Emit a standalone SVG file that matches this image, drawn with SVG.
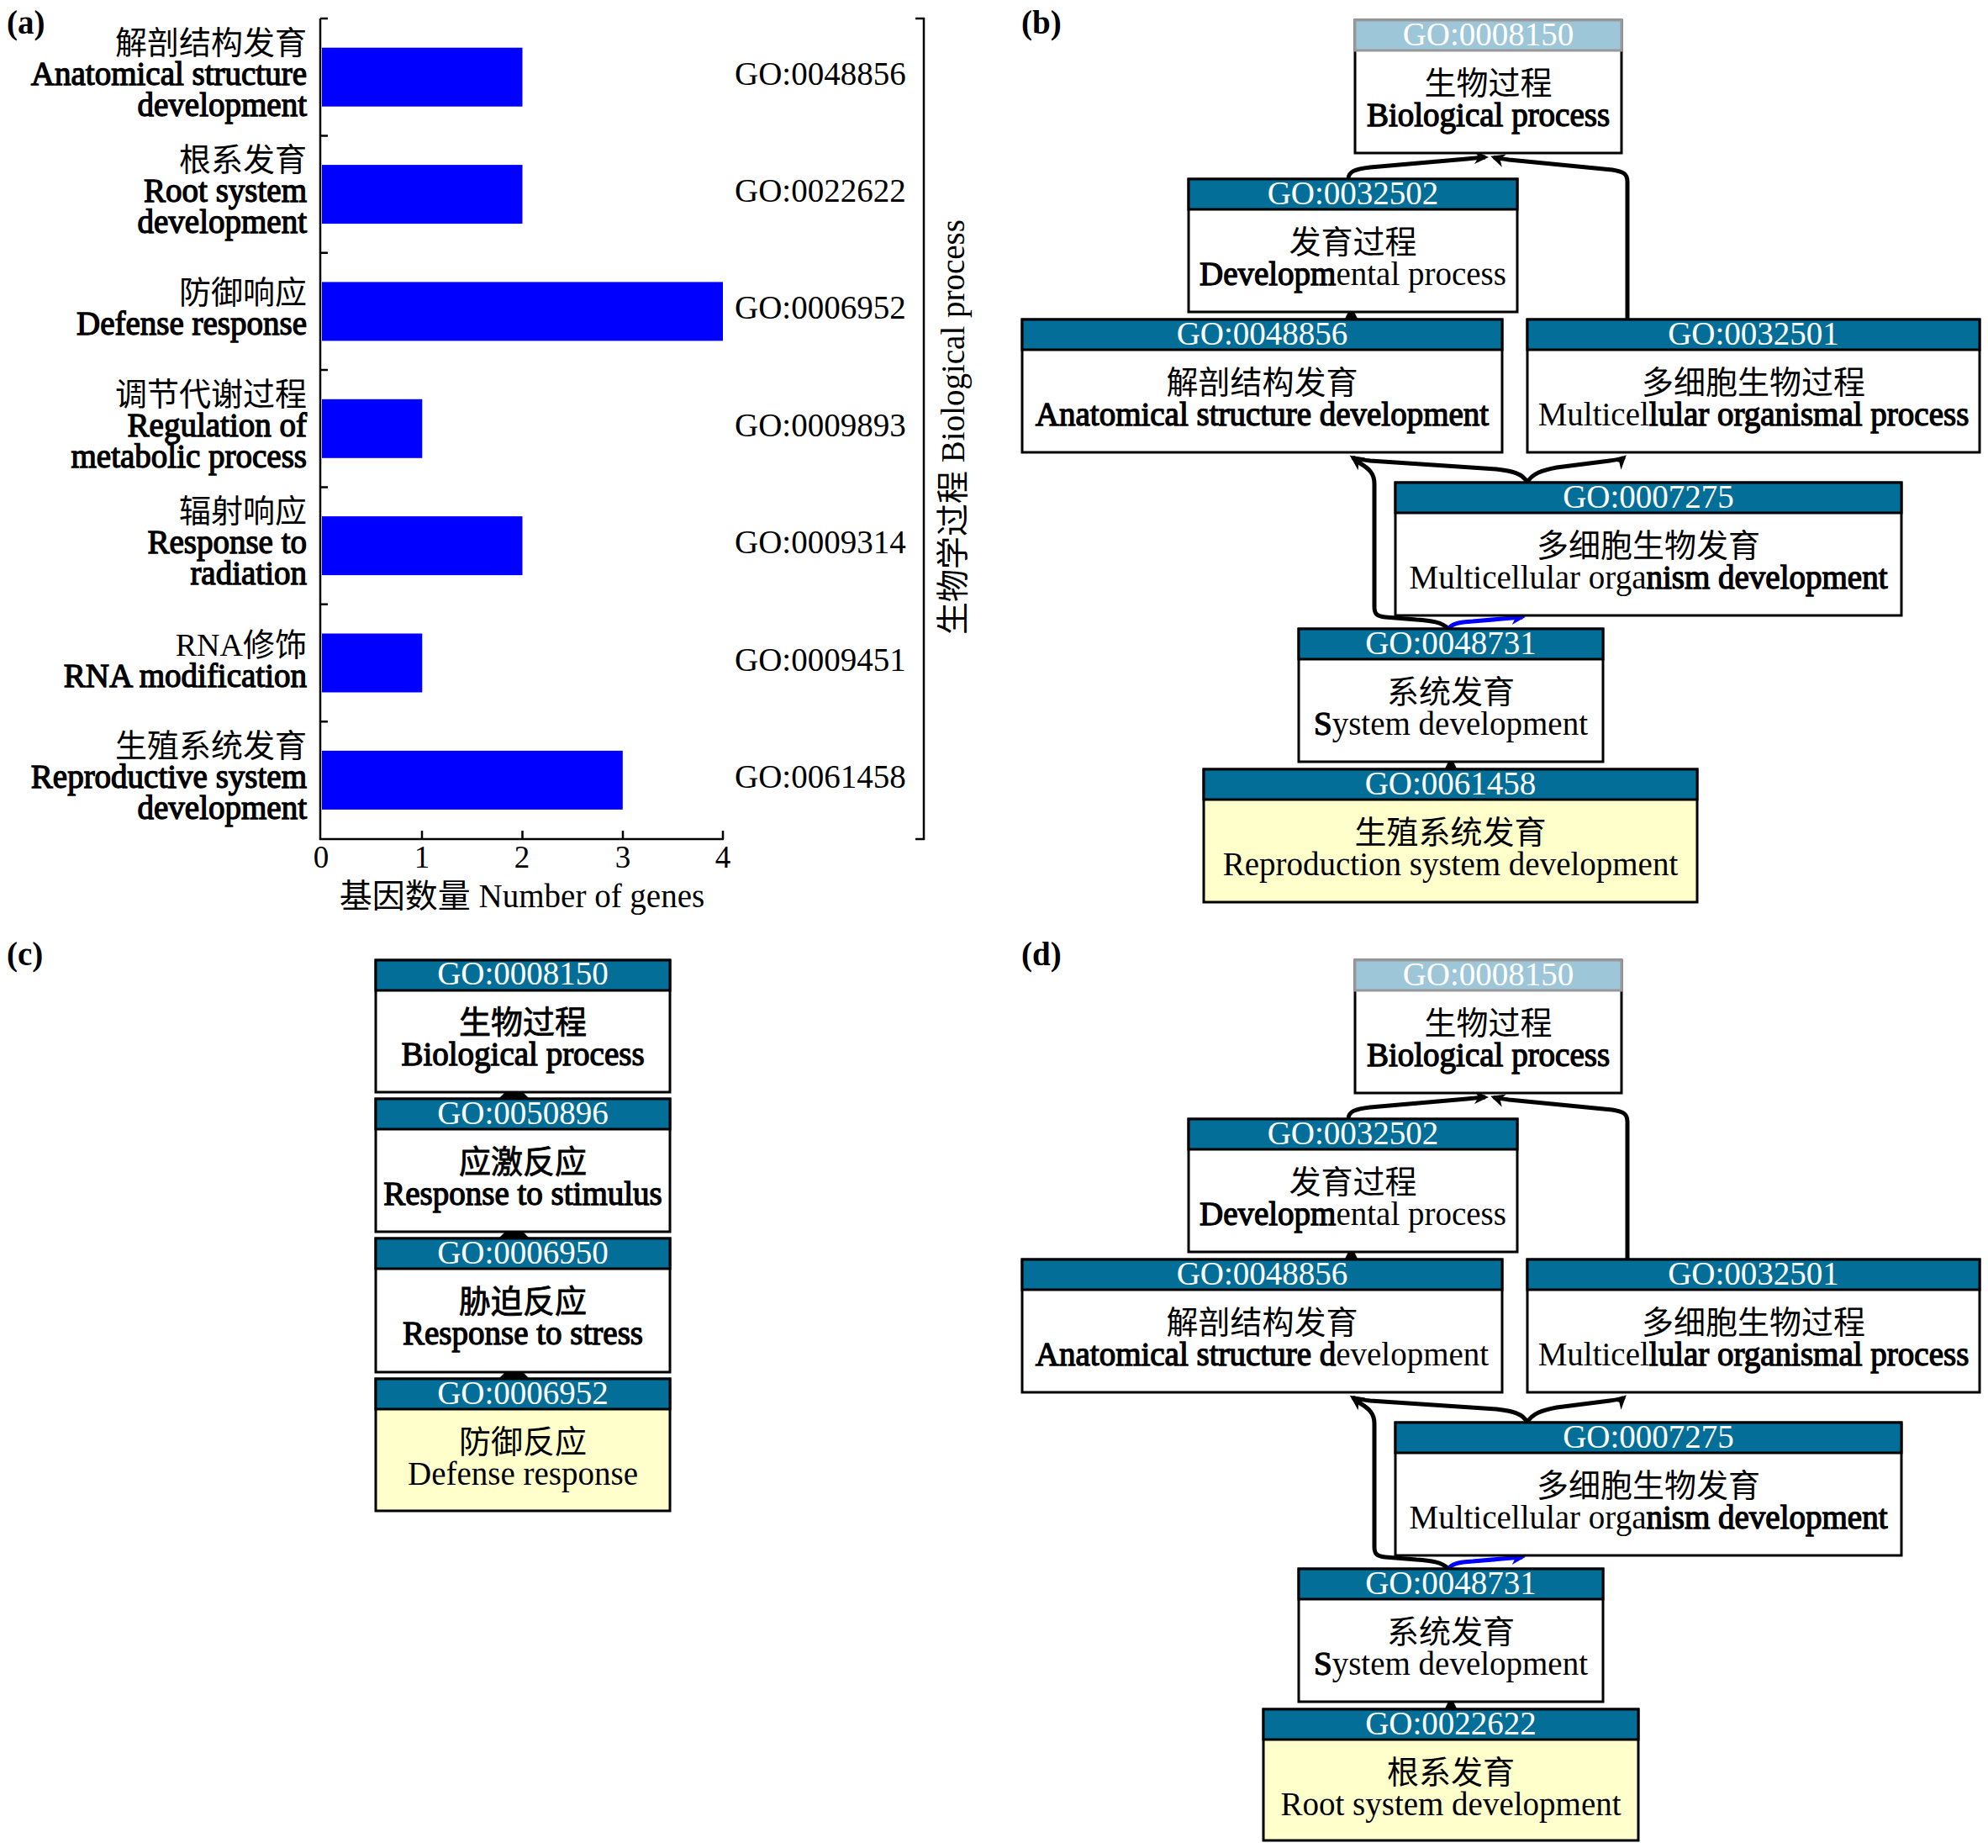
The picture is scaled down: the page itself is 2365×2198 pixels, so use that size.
<svg xmlns="http://www.w3.org/2000/svg" width="2365" height="2198" viewBox="0 0 2365 2198">
<defs>
<style>
.t{font-family:"Liberation Serif","Noto Sans CJK SC",serif;font-size:39px;fill:#000}
.zh{font-family:"Liberation Serif","Noto Sans CJK SC",sans-serif;font-size:38px}
.hd{font-family:"Liberation Serif",serif;font-size:39px;fill:#fff;text-anchor:middle}
.m{text-anchor:middle}
.e{text-anchor:end}
.b{stroke:#000;stroke-width:1.3px}
.bz{stroke:#000;stroke-width:0.8px}
.lab{font-family:"Liberation Serif",serif;font-size:39px;font-weight:bold}
.box{fill:#fff;stroke:#000;stroke-width:3}
.yel{fill:#ffffcc;stroke:#000;stroke-width:3}
.hdr{fill:#036f99;stroke:#000;stroke-width:3}
.hdl{fill:#9dc6d8;stroke:#999;stroke-width:3}
.bar{fill:#0000ff}
.ax{fill:none;stroke:#000;stroke-width:2.5}
.edge{fill:none;stroke:#000;stroke-width:5}
.bl{fill:none;stroke:#0000ff;stroke-width:5}
.blob{fill:#000}
</style>
<marker id="ah" markerUnits="userSpaceOnUse" markerWidth="24" markerHeight="24" viewBox="-20 -12 24 24" refX="-4" refY="0" orient="auto">
<path d="M0,0 L-17,-8 L-12,0 L-17,8 Z" fill="#000"/>
</marker>
<marker id="ahb" markerUnits="userSpaceOnUse" markerWidth="24" markerHeight="24" viewBox="-20 -12 24 24" refX="-4" refY="0" orient="auto">
<path d="M0,0 L-17,-8 L-12,0 L-17,8 Z" fill="#0000ff"/>
</marker>
</defs>
<rect x="0" y="0" width="2365" height="2198" fill="#fff"/>

<!-- panel labels -->
<text class="lab" x="8" y="40">(a)</text>
<text class="lab" x="1215" y="40">(b)</text>
<text class="lab" x="8" y="1148">(c)</text>
<text class="lab" x="1215" y="1148">(d)</text>

<!-- (a) bar chart -->
<g id="chart-a">
<g id="bars">
<rect class="bar" x="383" y="56.7" width="238.5" height="70"/>
<rect class="bar" x="383" y="196.1" width="238.5" height="70"/>
<rect class="bar" x="383" y="335.4" width="477" height="70"/>
<rect class="bar" x="383" y="474.8" width="119.3" height="70"/>
<rect class="bar" x="383" y="614.1" width="238.5" height="70"/>
<rect class="bar" x="383" y="753.5" width="119.3" height="70"/>
<rect class="bar" x="383" y="892.9" width="357.8" height="70"/>
</g>
<g id="axes">
<path class="ax" d="M381,22 V998 H861"/>
<path class="ax" d="M381,22 h9 M381,161.4 h9 M381,300.7 h9 M381,440.1 h9 M381,579.4 h9 M381,718.8 h9 M381,858.2 h9"/>
<path class="ax" d="M502,998 v-10 M621.5,998 v-10 M741,998 v-10 M860,998 v-10"/>
<path class="ax" d="M1089,22 H1099 V998 H1089"/>
</g>
<g id="ticklabels" class="t m" style="font-size:37px">
<text x="382" y="1032">0</text>
<text x="502" y="1032">1</text>
<text x="621" y="1032">2</text>
<text x="741" y="1032">3</text>
<text x="860" y="1032">4</text>
</g>
<text class="t m" x="621" y="1079">基因数量 Number of genes</text>
<text class="t m" transform="translate(1147,508) rotate(-90)">生物学过程 Biological process</text>
<g id="ylabels" class="t e">
<text x="365" y="64"><tspan class="zh">解剖结构发育</tspan><tspan class="b" x="365" dy="37">Anatomical structure</tspan><tspan class="b" x="365" dy="37">development</tspan></text>
<text x="365" y="203"><tspan class="zh">根系发育</tspan><tspan class="b" x="365" dy="37">Root system</tspan><tspan class="b" x="365" dy="37">development</tspan></text>
<text x="365" y="361"><tspan class="zh">防御响应</tspan><tspan class="b" x="365" dy="37">Defense response</tspan></text>
<text x="365" y="482"><tspan class="zh">调节代谢过程</tspan><tspan class="b" x="365" dy="37">Regulation of</tspan><tspan class="b" x="365" dy="37">metabolic process</tspan></text>
<text x="365" y="621"><tspan class="zh">辐射响应</tspan><tspan class="b" x="365" dy="37">Response to</tspan><tspan class="b" x="365" dy="37">radiation</tspan></text>
<text x="365" y="780"><tspan class="zh">RNA修饰</tspan><tspan class="b" x="365" dy="37">RNA modification</tspan></text>
<text x="365" y="900"><tspan class="zh">生殖系统发育</tspan><tspan class="b" x="365" dy="37">Reproductive system</tspan><tspan class="b" x="365" dy="37">development</tspan></text>
</g>
<g id="golabels" class="t">
<text x="874" y="101">GO:0048856</text>
<text x="874" y="240">GO:0022622</text>
<text x="874" y="379">GO:0006952</text>
<text x="874" y="519">GO:0009893</text>
<text x="874" y="658">GO:0009314</text>
<text x="874" y="798">GO:0009451</text>
<text x="874" y="937">GO:0061458</text>
</g>
</g>

<!-- (b) connectors -->
<g id="connectors-b">
<path class="edge" marker-end="url(#ah)" d="M1604,213 C1604,204 1612,201 1630,199 L1745,189 Q1765,187 1767,187"/>
<path class="edge" marker-end="url(#ah)" d="M1936,380 L1936,216 C1936,206 1930,204 1918,202 L1795,190 Q1780,188 1777,187"/>
<path class="edge" marker-end="url(#ah)" d="M1817,574 C1812,563 1798,560 1780,558 L1630,548 Q1612,546 1609,544"/>
<path class="edge" marker-end="url(#ah)" d="M1817,574 C1822,563 1836,559 1852,556 L1915,548 Q1930,546 1932,544"/>
<path class="edge" marker-end="url(#ah)" d="M1723,748 C1716,740 1702,738 1685,737 L1648,734 C1638,733 1635,730 1635,722 L1635,575 C1635,563 1628,557 1618,551 L1610,545"/>
<path class="bl" marker-end="url(#ahb)" d="M1723,748 C1727,742 1735,740 1752,739 L1811,734"/>
<polygon class="blob" points="1599,381 1604,371 1611,371 1616,381"/>
<polygon class="blob" points="1718,916 1723,906 1729,906 1734,916"/>
</g>

<!-- (d) connectors -->
<g id="connectors-d" transform="translate(0,1118)">
<path class="edge" marker-end="url(#ah)" d="M1604,213 C1604,204 1612,201 1630,199 L1745,189 Q1765,187 1767,187"/>
<path class="edge" marker-end="url(#ah)" d="M1936,380 L1936,216 C1936,206 1930,204 1918,202 L1795,190 Q1780,188 1777,187"/>
<path class="edge" marker-end="url(#ah)" d="M1817,574 C1812,563 1798,560 1780,558 L1630,548 Q1612,546 1609,544"/>
<path class="edge" marker-end="url(#ah)" d="M1817,574 C1822,563 1836,559 1852,556 L1915,548 Q1930,546 1932,544"/>
<path class="edge" marker-end="url(#ah)" d="M1723,748 C1716,740 1702,738 1685,737 L1648,734 C1638,733 1635,730 1635,722 L1635,575 C1635,563 1628,557 1618,551 L1610,545"/>
<path class="bl" marker-end="url(#ahb)" d="M1723,748 C1727,742 1735,740 1752,739 L1811,734"/>
<polygon class="blob" points="1599,381 1604,371 1611,371 1616,381"/>
<polygon class="blob" points="1718,916 1723,906 1729,906 1734,916"/>
</g>

<!-- (c) connectors -->
<g id="connectors-c">
<polygon class="blob" points="592,1308 601,1299 622,1299 631,1308"/>
<polygon class="blob" points="592,1474 601,1465 622,1465 631,1474"/>
<polygon class="blob" points="592,1641 601,1632 622,1632 631,1641"/>
</g>

<!-- (b) nodes -->
<g id="b-GO0008150">
<rect class="box" x="1612" y="24" width="317" height="158"/>
<rect class="hdl" x="1612" y="24" width="317" height="36"/>
<text class="hd" x="1770.5" y="54">GO:0008150</text>
<text class="t m" x="1770.5" y="112"><tspan class="zh">生物过程</tspan><tspan class="b" x="1770.5" dy="38">Biological process</tspan></text>
</g>
<g id="b-GO0032502">
<rect class="box" x="1414" y="213" width="391" height="158"/>
<rect class="hdr" x="1414" y="213" width="391" height="36"/>
<text class="hd" x="1609.5" y="243">GO:0032502</text>
<text class="t m" x="1609.5" y="301"><tspan class="zh">发育过程</tspan><tspan x="1609.5" dy="38"><tspan class="b">Developm</tspan>ental process</tspan></text>
</g>
<g id="b-GO0048856">
<rect class="box" x="1216" y="380" width="571" height="158"/>
<rect class="hdr" x="1216" y="380" width="571" height="36"/>
<text class="hd" x="1501.5" y="410">GO:0048856</text>
<text class="t m" x="1501.5" y="468"><tspan class="zh">解剖结构发育</tspan><tspan class="b" x="1501.5" dy="38">Anatomical structure development</tspan></text>
</g>
<g id="b-GO0032501">
<rect class="box" x="1817" y="380" width="538" height="158"/>
<rect class="hdr" x="1817" y="380" width="538" height="36"/>
<text class="hd" x="2086" y="410">GO:0032501</text>
<text class="t m" x="2086" y="468"><tspan class="zh">多细胞生物过程</tspan><tspan x="2086" dy="38">Multicel<tspan class="b">lular organismal process</tspan></tspan></text>
</g>
<g id="b-GO0007275">
<rect class="box" x="1660" y="574" width="602" height="158"/>
<rect class="hdr" x="1660" y="574" width="602" height="36"/>
<text class="hd" x="1961" y="604">GO:0007275</text>
<text class="t m" x="1961" y="662"><tspan class="zh">多细胞生物发育</tspan><tspan x="1961" dy="38">Multicellular orga<tspan class="b">nism development</tspan></tspan></text>
</g>
<g id="b-GO0048731">
<rect class="box" x="1545" y="748" width="362" height="158"/>
<rect class="hdr" x="1545" y="748" width="362" height="36"/>
<text class="hd" x="1726" y="778">GO:0048731</text>
<text class="t m" x="1726" y="836"><tspan class="zh">系统发育</tspan><tspan x="1726" dy="38"><tspan class="b">S</tspan>ystem development</tspan></text>
</g>
<g id="b-GO0061458">
<rect class="yel" x="1432" y="915" width="587" height="158"/>
<rect class="hdr" x="1432" y="915" width="587" height="36"/>
<text class="hd" x="1725.5" y="945">GO:0061458</text>
<text class="t m" x="1725.5" y="1003"><tspan class="zh">生殖系统发育</tspan><tspan x="1725.5" dy="38">Reproduction system development</tspan></text>
</g>

<!-- (c) nodes -->
<g id="c-GO0008150">
<rect class="box" x="447" y="1142" width="350" height="157"/>
<rect class="hdr" x="447" y="1142" width="350" height="36"/>
<text class="hd" x="622" y="1171">GO:0008150</text>
<text class="t m" x="622" y="1229"><tspan class="zh bz">生物过程</tspan><tspan class="b" x="622" dy="38">Biological process</tspan></text>
</g>
<g id="c-GO0050896">
<rect class="box" x="447" y="1307" width="350" height="158"/>
<rect class="hdr" x="447" y="1307" width="350" height="36"/>
<text class="hd" x="622" y="1337">GO:0050896</text>
<text class="t m" x="622" y="1395"><tspan class="zh bz">应激反应</tspan><tspan class="b" x="622" dy="38">Response to stimulus</tspan></text>
</g>
<g id="c-GO0006950">
<rect class="box" x="447" y="1473" width="350" height="159"/>
<rect class="hdr" x="447" y="1473" width="350" height="36"/>
<text class="hd" x="622" y="1503">GO:0006950</text>
<text class="t m" x="622" y="1561"><tspan class="zh bz">胁迫反应</tspan><tspan class="b" x="622" dy="38">Response to stress</tspan></text>
</g>
<g id="c-GO0006952">
<rect class="yel" x="447" y="1640" width="350" height="157"/>
<rect class="hdr" x="447" y="1640" width="350" height="36"/>
<text class="hd" x="622" y="1670">GO:0006952</text>
<text class="t m" x="622" y="1728"><tspan class="zh">防御反应</tspan><tspan x="622" dy="38">Defense response</tspan></text>
</g>

<!-- (d) nodes -->
<g id="d-GO0008150">
<rect class="box" x="1612" y="1142" width="317" height="158"/>
<rect class="hdl" x="1612" y="1142" width="317" height="36"/>
<text class="hd" x="1770.5" y="1172">GO:0008150</text>
<text class="t m" x="1770.5" y="1230"><tspan class="zh">生物过程</tspan><tspan class="b" x="1770.5" dy="38">Biological process</tspan></text>
</g>
<g id="d-GO0032502">
<rect class="box" x="1414" y="1331" width="391" height="158"/>
<rect class="hdr" x="1414" y="1331" width="391" height="36"/>
<text class="hd" x="1609.5" y="1361">GO:0032502</text>
<text class="t m" x="1609.5" y="1419"><tspan class="zh">发育过程</tspan><tspan x="1609.5" dy="38"><tspan class="b">Developm</tspan>ental process</tspan></text>
</g>
<g id="d-GO0048856">
<rect class="box" x="1216" y="1498" width="571" height="158"/>
<rect class="hdr" x="1216" y="1498" width="571" height="36"/>
<text class="hd" x="1501.5" y="1528">GO:0048856</text>
<text class="t m" x="1501.5" y="1586"><tspan class="zh">解剖结构发育</tspan><tspan x="1501.5" dy="38"><tspan class="b">Anatomical structure d</tspan>evelopment</tspan></text>
</g>
<g id="d-GO0032501">
<rect class="box" x="1817" y="1498" width="538" height="158"/>
<rect class="hdr" x="1817" y="1498" width="538" height="36"/>
<text class="hd" x="2086" y="1528">GO:0032501</text>
<text class="t m" x="2086" y="1586"><tspan class="zh">多细胞生物过程</tspan><tspan x="2086" dy="38">Multicel<tspan class="b">lular organismal process</tspan></tspan></text>
</g>
<g id="d-GO0007275">
<rect class="box" x="1660" y="1692" width="602" height="158"/>
<rect class="hdr" x="1660" y="1692" width="602" height="36"/>
<text class="hd" x="1961" y="1722">GO:0007275</text>
<text class="t m" x="1961" y="1780"><tspan class="zh">多细胞生物发育</tspan><tspan x="1961" dy="38">Multicellular orga<tspan class="b">nism development</tspan></tspan></text>
</g>
<g id="d-GO0048731">
<rect class="box" x="1545" y="1866" width="362" height="158"/>
<rect class="hdr" x="1545" y="1866" width="362" height="36"/>
<text class="hd" x="1726" y="1896">GO:0048731</text>
<text class="t m" x="1726" y="1954"><tspan class="zh">系统发育</tspan><tspan x="1726" dy="38"><tspan class="b">S</tspan>ystem development</tspan></text>
</g>
<g id="d-GO0022622">
<rect class="yel" x="1503" y="2033" width="446" height="156"/>
<rect class="hdr" x="1503" y="2033" width="446" height="36"/>
<text class="hd" x="1726" y="2063">GO:0022622</text>
<text class="t m" x="1726" y="2121"><tspan class="zh">根系发育</tspan><tspan x="1726" dy="38">Root system development</tspan></text>
</g>
</svg>
